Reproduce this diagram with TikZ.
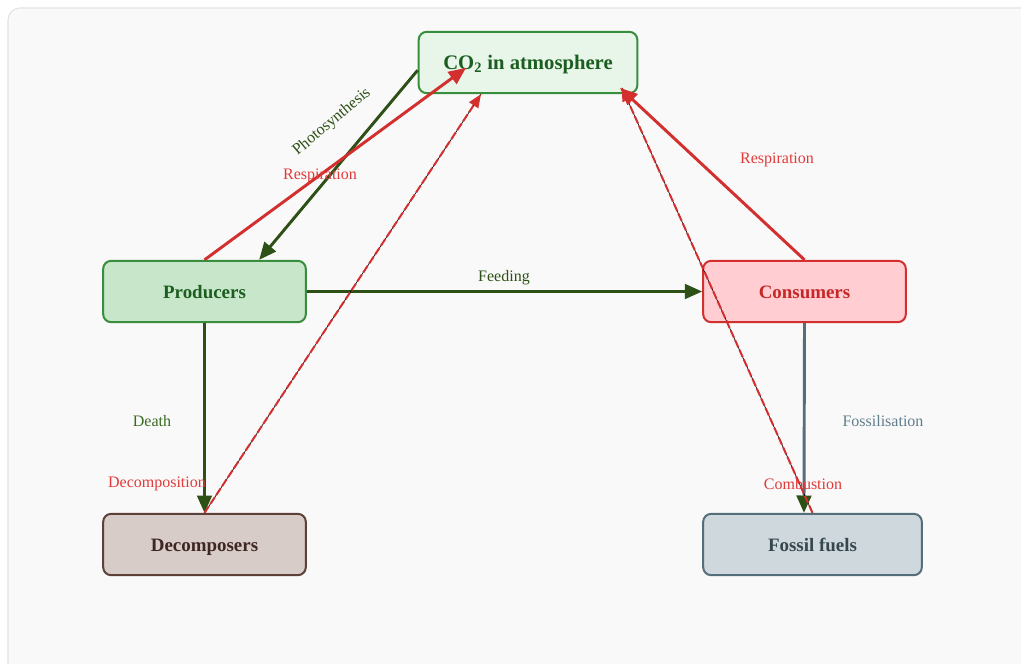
\documentclass[tikz,border=0pt]{standalone}
\usepackage{fontspec}
\setmainfont{Liberation Serif}
\usetikzlibrary{
  arrows.meta
}
\definecolor{panelbg}{HTML}{F9F9F9}
\definecolor{panelline}{HTML}{E2E2E2}
\definecolor{leafgreen}{HTML}{388E3C}
\definecolor{deepgreen}{HTML}{1B5E20}
\definecolor{flowgreen}{HTML}{2D5016}
\definecolor{labelgreen}{HTML}{3B6B22}
\definecolor{respred}{HTML}{D32F2F}
\definecolor{labelred}{HTML}{E03A3A}
\definecolor{soilbrown}{HTML}{5D4037}
\definecolor{slate}{HTML}{546E7A}
\definecolor{slatelabel}{HTML}{607D8B}
\definecolor{airfill}{HTML}{E8F5E9}
\definecolor{plantfill}{HTML}{C8E6C9}
\definecolor{animalfill}{HTML}{FFCDD2}
\definecolor{animaltext}{HTML}{C62828}
\definecolor{rotfill}{HTML}{D7CCC8}
\definecolor{rottext}{HTML}{3E2723}
\definecolor{fuelfill}{HTML}{CFD8DC}
\definecolor{fueltext}{HTML}{37474F}
\tikzset{
  >={Triangle[length=13pt,width=11pt]},
  every node/.style = {font=\fontsize{12}{14}\selectfont},
  box/.style = {draw, rounded corners=6pt, line width=1.5pt,
    minimum width=152pt, minimum height=46pt,
    text height=12pt, text depth=2pt,
    font=\fontsize{14.2}{17}\selectfont\bfseries},
  air/.style = {box, fill=airfill, draw=leafgreen, text=deepgreen, minimum width=164pt,
    font=\fontsize{15.5}{18}\selectfont\bfseries},
  plant/.style = {box, fill=plantfill, draw=leafgreen, text=deepgreen},
  animal/.style = {box, fill=animalfill, draw=respred, text=animaltext},
  rot/.style = {box, fill=rotfill, draw=soilbrown, text=rottext},
  fossil/.style = {box, fill=fuelfill, draw=slate, text=fueltext, minimum width=164pt},
  flow/.style = {->, draw=flowgreen, line width=2.2pt},
  breath/.style = {->, draw=respred, line width=2.2pt},
  release/.style = {->, >={Triangle[length=10pt,width=8pt]}, draw=respred,
    line width=1.5pt, dash pattern=on 6pt off 2pt,
    preaction={draw=black, line width=0.5pt, solid, -}},
  burial/.style = {->, draw=slate, line width=2.2pt,
    >={Triangle[length=13pt,width=11pt,fill=flowgreen,color=flowgreen]}},
}

\begin{document}
\begin{tikzpicture}[x=0.75pt, y=-0.75pt]
  \useasboundingbox (0,0) rectangle (1021,664);
  \draw[fill=panelbg, draw=panelline, line width=0.8pt, rounded corners=9pt]
    (8,8) rectangle (1045,690);

  % boxes
  \node[air] (co2) at (528,62.5) {CO\textsubscript{2} in atmosphere};
  \node[plant] (prod) at (204.5,291.5) {Producers};
  \node[animal] (cons) at (804.5,291.5) {Consumers};
  \node[rot] (dec) at (204.5,544.5) {Decomposers};
  \node[fossil] (fuel) at (812.5,544.5) {Fossil fuels};

  % carbon flows
  \draw[flow] (co2.184) -- ([xshift=41pt]prod.north);
  \draw[breath] (prod.north) -- ([xshift=-46.5pt,yshift=-4pt]co2.center);
  \draw[flow] (prod.east) -- (cons.west);
  \draw[breath] (cons.north) -- ([xshift=69pt,yshift=-19pt]co2.center);
  \draw[flow] (prod.south) -- (dec.north);
  \draw[release] (dec.north) -- ([xshift=-35.25pt]co2.south);
  \draw[burial] (cons.south) -- ([xshift=-6.4pt]fuel.north);
  \draw[release] (fuel.north) -- ([xshift=70.5pt,yshift=-19pt]co2.center);

  % labels
  \node[text=flowgreen, rotate=40] (photo) at (332,122) {Photosynthesis};
  \node[text=labelred] (resp1) at (320,176) {Respiration};
  \node[text=flowgreen] (feed) at (504,278) {Feeding};
  \node[text=labelred] (resp2) at (777,160) {Respiration};
  \node[text=labelgreen] (death) at (152,421) {Death};
  \node[text=labelred] (decomp) at (157,484) {Decomposition};
  \node[text=slatelabel] (fossilise) at (883,421) {Fossilisation};
  \node[text=labelred] (burn) at (803,484) {Combustion};
\end{tikzpicture}
\end{document}
